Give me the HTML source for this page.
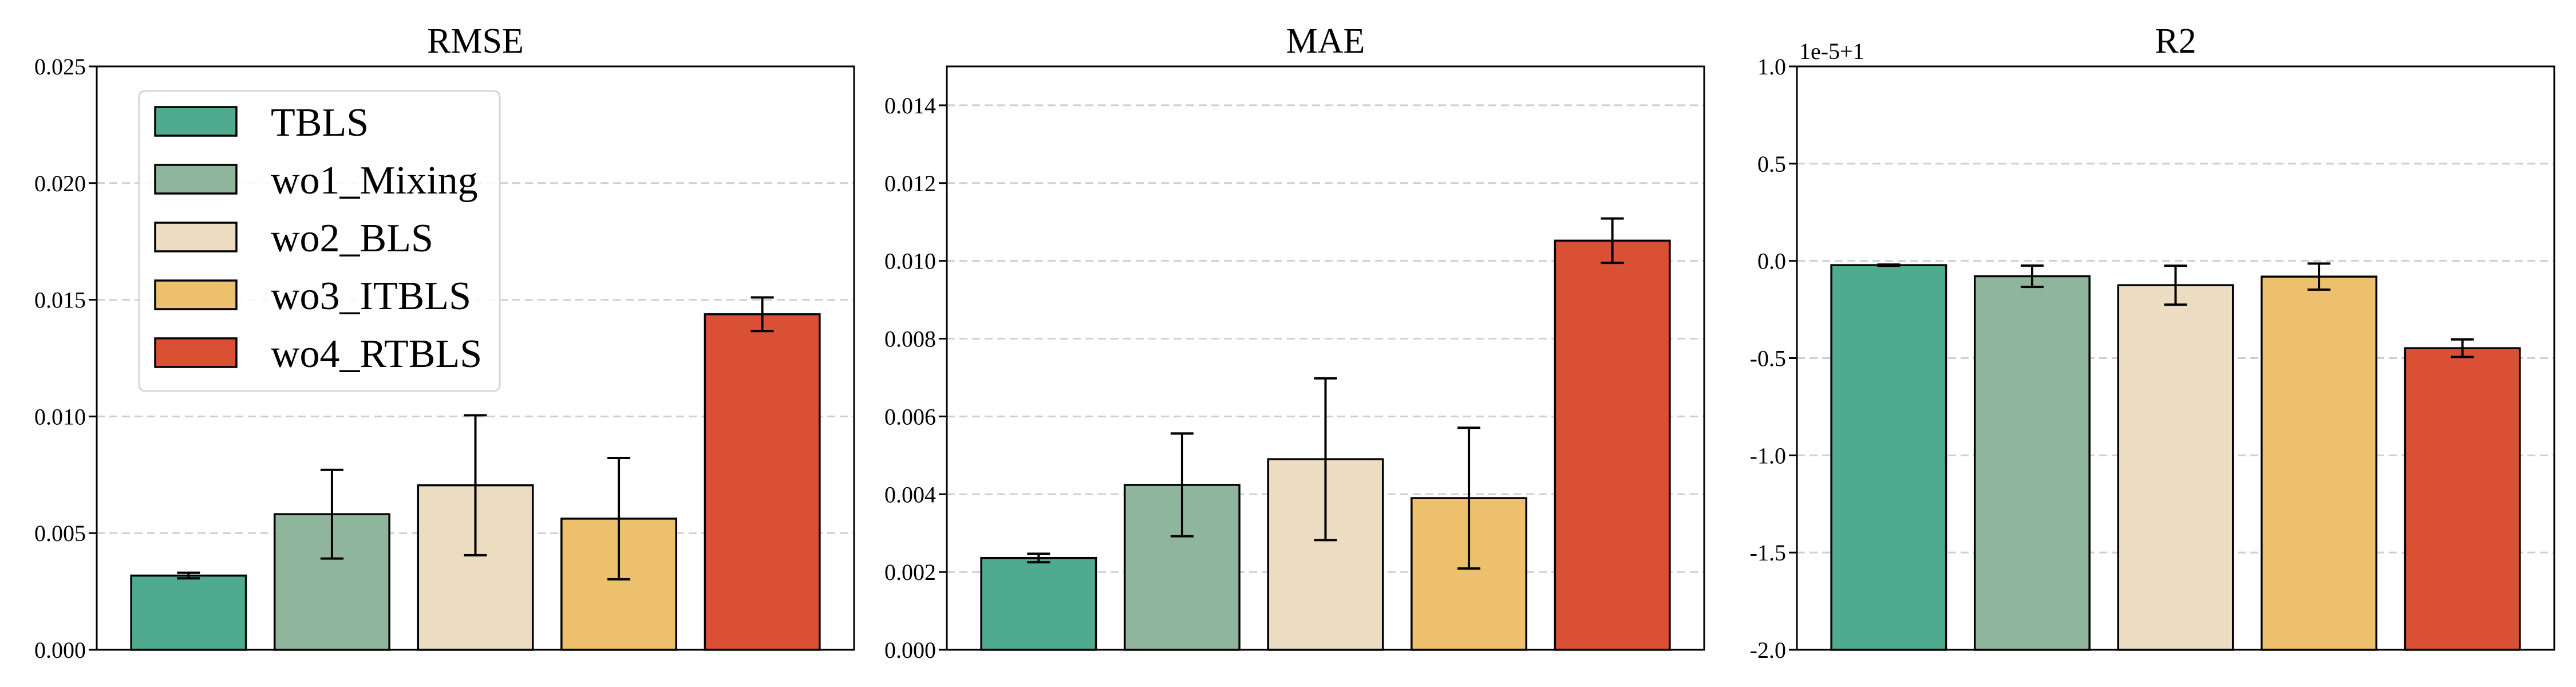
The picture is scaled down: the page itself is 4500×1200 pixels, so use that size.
<!DOCTYPE html>
<html><head><meta charset="utf-8"><style>
html,body{margin:0;padding:0;background:#fff;}
svg{display:block;font-family:"Liberation Serif","DejaVu Serif",serif;}
</style></head><body>
<svg id="fig" width="4500" height="1200" viewBox="0 0 4500 1200" xmlns="http://www.w3.org/2000/svg"></svg>
<script>
const categories = ["TBLS","wo1_Mixing","wo2_BLS","wo3_ITBLS","wo4_RTBLS"];
const colors = ["#4FAA8F","#8FB69C","#ECDCC2","#EDC06E","#DA5035"];
const rmseValues = [0.00318,0.00581,0.00705,0.00562,0.01438];
const rmseErrors = [0.00012,0.00190,0.00300,0.00260,0.00072];
const maeValues = [0.00236,0.00424,0.00490,0.00390,0.01052];
const maeErrors = [0.00011,0.00132,0.00208,0.00181,0.00057];
const r2Values = [-0.022,-0.079,-0.125,-0.081,-0.449];
const r2Errors = [0.003,0.055,0.100,0.067,0.045];
const rmseTicks = ["0.000","0.005","0.010","0.015","0.020","0.025"];
const maeTicks = ["0.000","0.002","0.004","0.006","0.008","0.010","0.012","0.014"];
const r2Ticks = ["-2.0","-1.5","-1.0","-0.5","0.0","0.5","1.0"];

const NS="http://www.w3.org/2000/svg";
const svg=document.getElementById('fig');
function el(tag,attrs,parent){const e=document.createElementNS(NS,tag);for(const k in attrs)e.setAttribute(k,attrs[k]);(parent||svg).appendChild(e);return e;}

const panels=[
 {title:"RMSE",left:169,vals:rmseValues,errs:rmseErrors,ticks:rmseTicks,ymin:0,ymax:0.025,offset:null,key:"rmse"},
 {title:"MAE",left:1654,vals:maeValues,errs:maeErrors,ticks:maeTicks,ymin:0,ymax:0.015,offset:null,key:"mae"},
 {title:"R2",left:3139,vals:r2Values,errs:r2Errors,ticks:r2Ticks,ymin:-2,ymax:1,offset:"1e-5+1",key:"r2"}
];
const W=1323,TOP=116,BOT=1135;

panels.forEach(p=>{
  const g=el('g',{});
  
  
  const xs=i=>p.left+(i+0.64)*(W/5.28);
  const bw=0.8*W/5.28;
  const ys=v=>BOT-(v-p.ymin)/(p.ymax-p.ymin)*(BOT-TOP);
  p.ticks.forEach(t=>{
    const v=parseFloat(t);const y=ys(v);
    if(Math.abs(y-TOP)>1&&Math.abs(y-BOT)>1){
      const gl=el('line',{x1:p.left,x2:p.left+W,y1:y,y2:y,stroke:"#cfcfcf","stroke-width":3,"stroke-dasharray":"14,8"},g);
      
      
    }
    const tk=el('line',{x1:p.left-14,x2:p.left,y1:y,y2:y,stroke:"#000","stroke-width":3},g);
    
    
    const tl=el('text',{x:p.left-19,y:y+14,"text-anchor":"end","font-size":40,fill:"#000"},g);
    tl.textContent=t;
    
    
  });
  const base=ys(p.ymin);
  p.vals.forEach((v,i)=>{
    const y=ys(v);
    const r=el('rect',{x:xs(i)-bw/2,y:Math.min(y,base),width:bw,height:Math.abs(base-y),fill:colors[i],stroke:"#000","stroke-width":3.5},g);
    
    
  });
  p.vals.forEach((v,i)=>{
    const e=p.errs[i],cx=xs(i),y1=ys(v+e),y2=ys(v-e);
    const eg=el('g',{stroke:"#000","stroke-width":4},g);
    
    
    el('line',{x1:cx,x2:cx,y1:y1,y2:y2},eg);
    el('line',{x1:cx-20,x2:cx+20,y1:y1,y2:y1},eg);
    el('line',{x1:cx-20,x2:cx+20,y1:y2,y2:y2},eg);
  });
  const fr=el('rect',{x:p.left,y:TOP,width:W,height:BOT-TOP,fill:"none",stroke:"#000","stroke-width":3},g);
  
  
  const tt=el('text',{x:p.left+W/2,y:92,"text-anchor":"middle","font-size":62,fill:"#000"},g);
  tt.textContent=p.title;
  
  
  if(p.offset){
    const ot=el('text',{x:p.left+4,y:103,"font-size":40,fill:"#000"},g);
    ot.textContent=p.offset;
    
    
  }
});

const lg=el('g',{});


el('rect',{x:243,y:159,width:630,height:524,rx:10,fill:"#fff","fill-opacity":0.85,stroke:"#d6d6d6","stroke-width":3},lg);
categories.forEach((c,i)=>{
  const y=187+i*101;
  const eg=el('g',{},lg);
  
  
  el('rect',{x:271,y:y,width:142,height:50,fill:colors[i],stroke:"#000","stroke-width":3.5},eg);
  const t=el('text',{x:473,y:y+50,"font-size":70,fill:"#000"},eg);
  t.textContent=c;
});
</script>
</body></html>
